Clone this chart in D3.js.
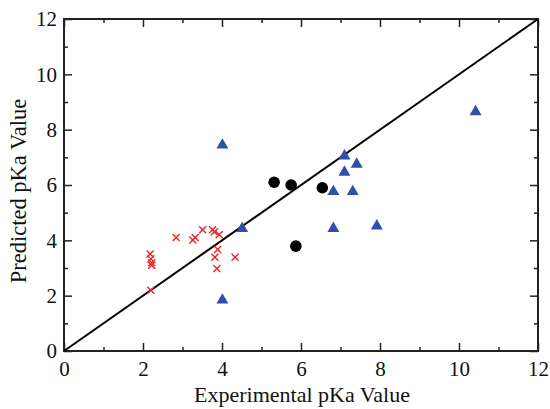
<!DOCTYPE html>
<html>
<head>
<meta charset="utf-8">
<script src="https://cdn.jsdelivr.net/npm/d3@7"></script>
<style>
  body { margin: 0; background: #fff; }
  text { font-family: "Liberation Serif", "Times New Roman", serif; }
</style>
</head>
<body>
<div id="chart"></div>
<script>
// red crosses
var crossX = [2.84, 3.51, 3.76, 3.81, 3.93, 3.26, 3.32, 2.18, 2.20, 2.22, 2.22, 2.20, 3.89, 3.82, 4.33, 3.87];
var crossY = [4.10, 4.38, 4.38, 4.31, 4.20, 4.01, 4.10, 3.51, 3.33, 3.19, 3.10, 2.20, 3.67, 3.39, 3.39, 2.98];
// blue triangles
var triX = [4.01, 4.51, 7.10, 7.41, 7.10, 6.82, 7.31, 6.82, 7.92, 10.42, 4.01];
var triY = [7.44, 4.43, 7.05, 6.75, 6.46, 5.76, 5.76, 4.43, 4.52, 8.65, 1.84];
// black circles
var dotX = [5.32, 5.75, 6.54, 5.87];
var dotY = [6.10, 6.00, 5.90, 3.79];

var majorTicks = [0, 2, 4, 6, 8, 10, 12];
var minorTicks = [1, 3, 5, 7, 9, 11];

var W = 550, H = 409;
var m = {left: 64, top: 19, right: 12, bottom: 58};

var svg = d3.select("#chart").append("svg")
  .attr("width", W).attr("height", H);

var x = d3.scaleLinear().domain([0, 12]).range([m.left, W - m.right]);
var y = d3.scaleLinear().domain([0, 12]).range([H - m.bottom, m.top]);

// ticks on all four sides, pointing inward
function ticks(axisFn, scale, vals, len, pad, labels) {
  return axisFn(scale).tickValues(vals).tickSizeInner(-len).tickSizeOuter(0)
    .tickPadding(pad).tickFormat(labels ? d3.format("d") : "");
}

var gb = svg.append("g").attr("transform", "translate(0," + y(0) + ")");
gb.call(ticks(d3.axisBottom, x, majorTicks, 8, 10, true));
gb.append("g").call(ticks(d3.axisBottom, x, minorTicks, 4, 10, false));

var gt = svg.append("g").attr("transform", "translate(0," + y(12) + ")");
gt.call(ticks(d3.axisTop, x, majorTicks, 8, 8, false));
gt.append("g").call(ticks(d3.axisTop, x, minorTicks, 4, 8, false));

var gl = svg.append("g").attr("transform", "translate(" + x(0) + ",0)");
gl.call(ticks(d3.axisLeft, y, majorTicks, 8, 7, true));
gl.append("g").call(ticks(d3.axisLeft, y, minorTicks, 4, 7, false));

var gr = svg.append("g").attr("transform", "translate(" + x(12) + ",0)");
gr.call(ticks(d3.axisRight, y, majorTicks, 8, 8, false));
gr.append("g").call(ticks(d3.axisRight, y, minorTicks, 4, 8, false));

svg.selectAll(".domain").remove();
svg.selectAll(".tick line").attr("stroke", "#222").attr("stroke-width", 1.5);
svg.selectAll(".tick text").attr("font-size", 21).attr("fill", "#111")
  .attr("font-family", "Liberation Serif, serif");

svg.append("rect")
  .attr("x", x(0)).attr("y", y(12))
  .attr("width", x(12) - x(0)).attr("height", y(0) - y(12))
  .attr("fill", "none").attr("stroke", "#222").attr("stroke-width", 2);

// y = x line
svg.append("line")
  .attr("x1", x(0)).attr("y1", y(0)).attr("x2", x(12)).attr("y2", y(12))
  .attr("stroke", "#000").attr("stroke-width", 2);

// crosses
var cr = 3.5;
svg.append("g").selectAll("path").data(d3.range(crossX.length)).join("path")
  .attr("d", function(i) {
    var cx = x(crossX[i]), cy = y(crossY[i]);
    return "M" + (cx - cr) + "," + (cy - cr) + "L" + (cx + cr) + "," + (cy + cr) +
      "M" + (cx - cr) + "," + (cy + cr) + "L" + (cx + cr) + "," + (cy - cr);
  })
  .attr("stroke", "#e8262a").attr("stroke-width", 1.4).attr("fill", "none");

// triangles
var tri = d3.symbol().type(d3.symbolTriangle).size(62);
svg.append("g").selectAll("path").data(d3.range(triX.length)).join("path")
  .attr("d", tri)
  .attr("transform", function(i) { return "translate(" + x(triX[i]) + "," + y(triY[i]) + ")"; })
  .attr("fill", "#2f50a8");

// circles
svg.append("g").selectAll("circle").data(d3.range(dotX.length)).join("circle")
  .attr("cx", function(i) { return x(dotX[i]); })
  .attr("cy", function(i) { return y(dotY[i]); })
  .attr("r", 5.8).attr("fill", "#000");

// axis titles
svg.append("text")
  .attr("x", 302).attr("y", 402)
  .attr("text-anchor", "middle").attr("font-size", 22).attr("fill", "#111")
  .text("Experimental pKa Value");

svg.append("text")
  .attr("transform", "translate(26,191) rotate(-90)")
  .attr("text-anchor", "middle").attr("font-size", 22.5).attr("fill", "#111")
  .text("Predicted pKa Value");
</script>
</body>
</html>
